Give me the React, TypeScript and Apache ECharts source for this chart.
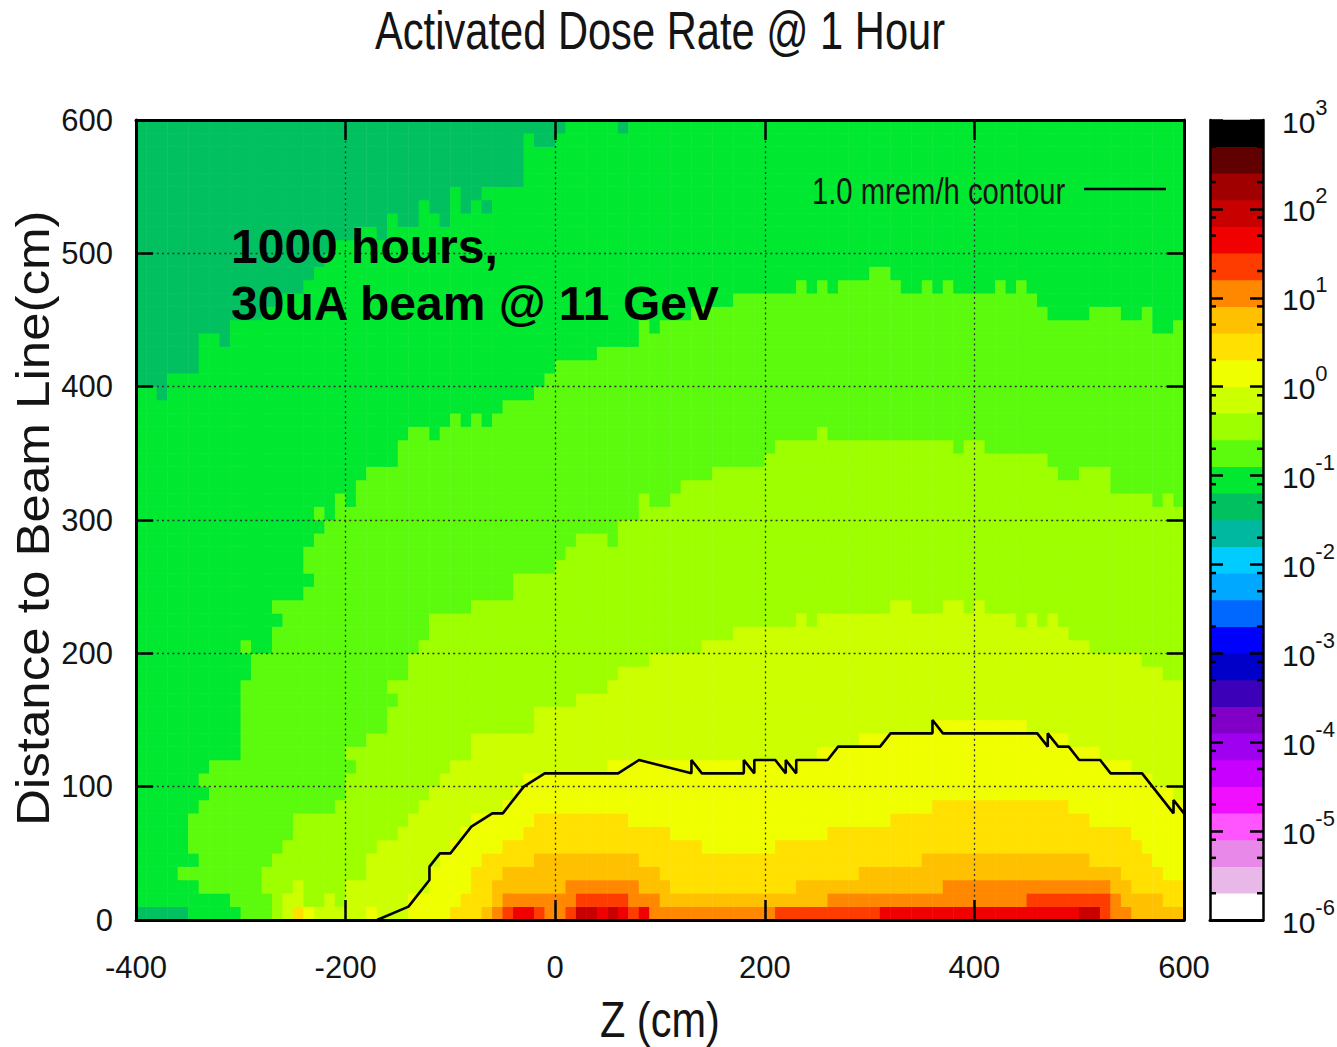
import React, { useEffect, useRef } from "react";
import * as echarts from "echarts";

const titleText = "Activated Dose Rate @ 1 Hour";
const xTitle = "Z (cm)";
const yTitle = "Distance to Beam Line(cm)";
const legendName = "1.0 mrem/h contour";
const noteLines = ["1000 hours,", "30uA beam @ 11 GeV"];

// colour bar bands, bottom (1e-6) to top (1e3), each 0.3 decades
const bandColors = [
  "#ffffff", "#e8b8e8", "#e888e8", "#ff55ff", "#f010ff", "#c800ff", "#a000f0", "#8000c8", "#3c00b8", "#0000c8",
  "#0000ff", "#0068ff", "#00a8ff", "#00ccff", "#00b8a0", "#00c060", "#00e830", "#5cfb0e", "#9eff00", "#ccff00",
  "#f0ff00", "#ffe000", "#ffc000", "#ff8800", "#ff3c00", "#f00000", "#c80000", "#a00000", "#600000", "#000000",
];
const decades = [-6, -5, -4, -3, -2, -1, 0, 1, 2, 3];
const minorMultipliers = [2, 5, 8];

// letter -> colour band index
const bandOfLetter: Record<string, number> = { T: 15, G: 16, L: 17, Y: 18, M: 19, W: 20, A: 21, O: 22, R: 23, E: 24, D: 25, K: 26 };

// cells are 10 cm x 10 cm; each row (0 = 0-10 cm above the beam line) lists "startColumn+band" runs, column 0 = Z -400
const rowRuns = [
  "0T 5G 10L 13Y 14M 15A 16W 17M 22W 23M 26W 30A 33O 34R 35E 36D 38E 39R 41E 42K 44D 45K 46D 47E 48D 49R 61E 71D 90K 92E 93R 95O",
  "0G 9L 13Y 14M 16Y 18M 19Y 20M 26W 31A 34O 35R 42E 47R 50O 66R 85E 93R 94O 98A",
  "0G 6L 12Y 15M 16Y 20M 28W 32A 34O 41R 48O 51A 63O 77R 93O 95A",
  "0G 4L 12Y 22M 28W 32A 35O 50A 69O 94A 98W",
  "0G 6L 13Y 22M 29W 33A 38O 48A 75O 91A 97W",
  "0G 5L 14Y 23M 30W 35A 54W 61A 96W",
  "0G 5L 15Y 25M 31W 37A 51W 66A 95W",
  "0G 5L 15Y 26M 32W 38A 47W 72A 91W",
  "0G 6L 19Y 27M 35W 76A 89W",
  "0G 7L 20Y 28M 36W 99M",
  "0G 6L 20Y 29M 37W 97M",
  "0G 7L 21Y 30M 45W 95M",
  "0G 10L 20Y 32M 65W 92M",
  "0G 10L 22Y 32M 69W 89M",
  "0G 10L 24Y 38M 76W 85M",
  "0G 10L 24Y 38M",
  "0G 10L 25Y 42M",
  "0G 10L 24Y 45M",
  "0G 11L 26Y 46M 98Y",
  "0G 11L 26Y 49M 96Y",
  "0G 10L 11G 13L 27Y 54M 91Y",
  "0G 13L 28Y 57M 89Y",
  "0G 14L 28Y 63M 64Y 65M 84Y 85M 86Y 87M 88Y",
  "0G 13L 32Y 72M 74Y 77M 79Y 80M 81Y",
  "0G 16L 36Y",
  "0G 17L 36Y",
  "0G 16L 40Y",
  "0G 16L 41Y",
  "0G 17L 42Y 45L 46Y",
  "0G 18L 46Y",
  "0G 17L 18G 19L 48Y",
  "0G 19L 20G 21L 48Y 49L 51Y 97L 98Y 99L",
  "0G 21L 52Y 93L",
  "0G 22L 55Y 88L 90Y 93L",
  "0G 25L 60Y 87L",
  "0G 25L 61Y 78L 79Y 81L",
  "0G 26L 28G 29L 65Y 66L",
  "0G 30L 31G 32L 33G 34L",
  "0G 35L",
  "0G 2T 3G 38L",
  "0T 3G 39L",
  "0T 6G 40L",
  "0T 6G 44L",
  "0T 6G 8T 9G 48L",
  "0T 9G 48L 49G 50L 97G 99L",
  "0T 12G 53L 87G 91L 94G 96L 97G",
  "0T 14G 57L 86G",
  "0T 16G 63L 64G 65L 66G 67L 73G 75L 76G 77L 78G 82L 83G 84L 85G",
  "0T 17G 70L 72G",
  "0T 18G",
  "0T 19G",
  "0T 21G 23T 24G",
  "0T 24G 25T 27G 29T 30G",
  "0T 27G 28T 30G 31T 32G 33T 34G",
  "0T 30G 31T 33G",
  "0T 37G",
  "0T 37G",
  "0T 37G",
  "0T 37G 38T 40G",
  "0T 41G 46T 47G",
];

const contourZ = [-170, -140, -120, -120, -110, -100, -80, -60, -50, -30, -10, 60, 80, 130, 130, 140, 180, 180, 190, 190, 210, 220, 220, 230, 230, 260, 270, 310, 320, 360, 360, 370, 460, 470, 470, 480, 490, 500, 520, 530, 560, 590, 590, 600];
const contourD = [0, 10, 30, 40, 50, 50, 70, 80, 80, 100, 110, 110, 120, 110, 120, 110, 110, 120, 110, 120, 120, 110, 120, 110, 120, 120, 130, 130, 140, 140, 150, 140, 140, 130, 140, 130, 130, 120, 120, 110, 110, 80, 90, 80];

const bandCenter = (b: number) => -6 + 0.3 * (b + 0.5);

function buildCells() {
  const cells: number[][] = [];
  rowRuns.forEach((runs, row) => {
    const parts = runs.split(" ").map((p) => ({ start: parseInt(p, 10), band: bandOfLetter[p.slice(-1)] }));
    parts.forEach((part, k) => {
      const end = k + 1 < parts.length ? parts[k + 1].start : 100;
      for (let col = part.start; col < end; col++) cells.push([col, row, bandCenter(part.band)]);
    });
  });
  return cells;
}

const regular = "'Liberation Sans', sans-serif";
const ink = "#141414";

export default function App() {
  const ref = useRef<HTMLDivElement>(null);
  useEffect(() => {
    const chart = echarts.init(ref.current!, undefined, { renderer: "svg" });
    const columns = Array.from({ length: 100 }, (_, i) => String(-400 + i * 10));
    const rows = Array.from({ length: 60 }, (_, i) => String(i * 10));
    const barRows = bandColors.map((_, i) => String(i));
    const minorTicks: number[][] = [];
    decades.slice(0, -1).forEach((d) => minorMultipliers.forEach((m) => minorTicks.push([d + Math.log10(m)])));
    const black = { color: "#000", width: 3 };
    const tickStyle = { color: "#000", width: 2.5 };
    const dotted = { color: "#333", width: 1.3, type: [2, 3.2] as number[] };
    const mainGrid = { left: 136, top: 120, width: 1048, height: 800, outerBoundsMode: "none" };
    const barGrid = { left: 1210, top: 120, width: 53, height: 800, outerBoundsMode: "none" };
    const narrowText = (text: string, x: number, y: number, fontSize: number, scaleX: number) => ({
      type: "text", z: 10, x, y, scaleX,
      style: { text, fontFamily: regular, fontSize, fill: ink, verticalAlign: "top" },
    });
    const option: any = {
      animation: false,
      backgroundColor: "#ffffff",
      grid: [mainGrid, barGrid],
      visualMap: {
        type: "piecewise",
        show: false,
        seriesIndex: [0, 3],
        dimension: 2,
        pieces: bandColors.map((color, b) => ({ gte: -6 + 0.3 * b, lt: -6 + 0.3 * (b + 1), color })),
      },
      xAxis: [
        { type: "category", gridIndex: 0, data: columns, show: false },
        {
          type: "value", gridIndex: 0, min: -400, max: 600, interval: 200, position: "bottom", z: 5,
          axisLine: { show: true, onZero: false, lineStyle: black },
          axisTick: { show: true, inside: true, length: 20, lineStyle: tickStyle },
          axisLabel: { margin: 32, fontFamily: regular, fontSize: 31, color: ink },
          splitLine: { show: true, lineStyle: dotted },
        },
        {
          type: "value", gridIndex: 0, min: -400, max: 600, interval: 200, position: "top", z: 5,
          axisLine: { show: true, onZero: false, lineStyle: black },
          axisTick: { show: true, inside: true, length: 20, lineStyle: tickStyle },
          axisLabel: { show: false },
          splitLine: { show: false },
        },
        { type: "category", gridIndex: 1, data: ["bar"], show: false },
        {
          type: "value", gridIndex: 1, min: 0, max: 1, position: "bottom", z: 5,
          axisLine: { show: true, onZero: false, lineStyle: black },
          axisTick: { show: false },
          axisLabel: { show: false },
          splitLine: { show: false },
        },
      ],
      yAxis: [
        { type: "category", gridIndex: 0, data: rows, show: false },
        {
          type: "value", gridIndex: 0, min: 0, max: 600, interval: 100, position: "left", z: 5,
          axisLine: { show: true, onZero: false, lineStyle: black },
          axisTick: { show: true, inside: true, length: 17, lineStyle: tickStyle },
          axisLabel: { margin: 23, fontFamily: regular, fontSize: 31, color: ink },
          splitLine: { show: true, lineStyle: dotted },
        },
        {
          type: "value", gridIndex: 0, min: 0, max: 600, interval: 100, position: "right", z: 5,
          axisLine: { show: true, onZero: false, lineStyle: black },
          axisTick: { show: true, inside: true, length: 17, lineStyle: tickStyle },
          axisLabel: { show: false },
          splitLine: { show: false },
        },
        { type: "category", gridIndex: 1, data: barRows, show: false },
        {
          type: "value", gridIndex: 1, min: -6, max: 3, interval: 1, position: "left", z: 5,
          axisLine: { show: true, onZero: false, lineStyle: { color: "#000", width: 2.5 } },
          axisTick: { show: true, inside: true, length: 13, lineStyle: tickStyle },
          axisLabel: { show: false },
          splitLine: { show: false },
        },
        {
          type: "value", gridIndex: 1, min: -6, max: 3, interval: 1, position: "right", z: 5,
          axisLine: { show: true, onZero: false, lineStyle: { color: "#000", width: 2.5 } },
          axisTick: { show: true, inside: true, length: 13, lineStyle: tickStyle },
          axisLabel: {
            margin: 19,
            align: "left",
            formatter: (v: number) => `{b|10}{s|${v}}`,
            rich: {
              b: { fontFamily: regular, fontSize: 30, color: ink, lineHeight: 34, verticalAlign: "bottom", padding: [8, 0, 0, 0] },
              s: { fontFamily: regular, fontSize: 22, color: ink, lineHeight: 34, verticalAlign: "bottom", padding: [0, 0, 19, 0] },
            },
          },
          splitLine: { show: false },
        },
      ],
      series: [
        {
          type: "heatmap", name: "Dose rate", xAxisIndex: 0, yAxisIndex: 0, data: buildCells(),
          progressive: 0, emphasis: { disabled: true }, itemStyle: { borderWidth: 0 },
        },
        {
          type: "line", name: legendName, xAxisIndex: 1, yAxisIndex: 1, z: 6, symbol: "none", clip: false,
          data: contourZ.map((z, i) => [z, contourD[i]]),
          lineStyle: { color: "#000", width: 2.6 }, itemStyle: { color: "#000" },
        },
        {
          type: "custom", name: "Minor ticks", xAxisIndex: 4, yAxisIndex: 4, z: 6, data: minorTicks,
          encode: { y: 0 },
          renderItem: (_: any, api: any) => {
            const a = api.coord([0, api.value(0)]);
            const b = api.coord([1, api.value(0)]);
            const line = (x1: number, x2: number) => ({
              type: "line", shape: { x1, y1: a[1], x2, y2: a[1] }, style: { stroke: "#000", lineWidth: 2.5 },
            });
            return { type: "group", children: [line(a[0], a[0] + 6), line(b[0] - 6, b[0])] };
          },
        },
        {
          type: "heatmap", name: "Colour bar", xAxisIndex: 3, yAxisIndex: 3,
          data: bandColors.map((_, b) => [0, b, bandCenter(b)]),
          progressive: 0, emphasis: { disabled: true }, itemStyle: { borderWidth: 0 },
        },
      ],
      graphic: [
        narrowText(titleText, 375, 4, 53, 0.786),
        narrowText(legendName, 812, 173, 37, 0.79),
        narrowText(xTitle, 600, 995, 50, 0.83),
        {
          type: "text", z: 10, x: 33, y: 826, rotation: Math.PI / 2, scaleX: 1.11,
          style: { text: yTitle, fontFamily: regular, fontSize: 46, fill: ink, verticalAlign: "middle", align: "left" },
        },
        {
          type: "line", z: 10,
          shape: { x1: 1084, y1: 189, x2: 1166, y2: 189 },
          style: { stroke: "#000", lineWidth: 2.6 },
        },
        ...noteLines.map((text, i) => ({
          type: "text", z: 10, x: 231, y: 222 + i * 57,
          style: { text, fontFamily: regular, fontWeight: "bold", fontSize: 48, fill: "#000" },
        })),
      ],
    };
    chart.setOption(option);
    return () => chart.dispose();
  }, []);
  return <div ref={ref} style={{ position: "absolute", left: 0, top: 0, width: 1337, height: 1047 }} />;
}
